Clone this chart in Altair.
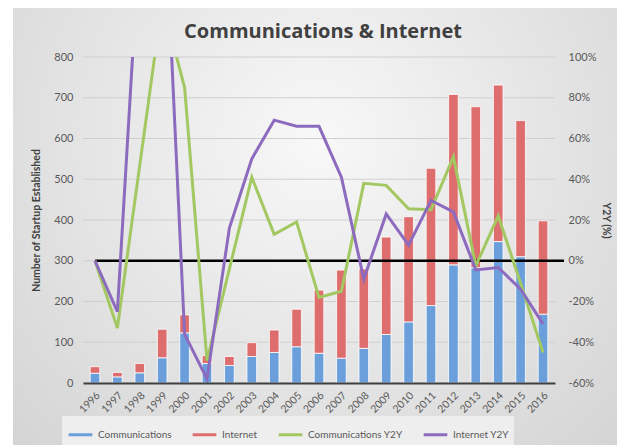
import altair as alt
import pandas as pd

years = [str(y) for y in range(1996, 2017)]
communications = [24, 15, 25, 62, 123, 48, 43, 65, 75, 89, 73, 61, 85, 119, 150, 190, 290, 283, 347, 310, 169]
internet = [16, 11, 23, 70, 44, 19, 22, 34, 55, 92, 155, 216, 195, 239, 258, 337, 418, 395, 384, 334, 229]
communications_y2y = [0, -33, 47, 127, 85, -49, -4, 41, 13, 19, -18, -15, 38, 37, 25.5, 25, 51, -2.5, 22, -11, -45]
internet_y2y = [0, -25, 160, 200, -36, -58, 16, 50, 69, 66, 66, 41, -9, 23, 7.7, 29.6, 24, -4.5, -3.3, -14, -31]

series_names = ["Communications", "Internet", "Communications Y2Y", "Internet Y2Y"]
series_colors = ["#6A9FDB", "#DE6E6E", "#A3C862", "#8C6BBE"]
left_ticks = list(range(0, 801, 100))
right_ticks = list(range(-60, 101, 20))
chart_title = "Communications & Internet"

bars_df = pd.DataFrame(
    [{"year": y, "series": series_names[0], "value": v, "order": 0} for y, v in zip(years, communications)]
    + [{"year": y, "series": series_names[1], "value": v, "order": 1} for y, v in zip(years, internet)]
)
lines_df = pd.DataFrame(
    [{"year": y, "series": series_names[2], "pct": v} for y, v in zip(years, communications_y2y)]
    + [{"year": y, "series": series_names[3], "pct": v} for y, v in zip(years, internet_y2y)]
)
grid_df = pd.DataFrame({"v": left_ticks})
zero_df = pd.DataFrame({"year": [years[0]], "pct": [0]})
one_df = pd.DataFrame({"t": [chart_title]})

W, H = 472, 326
FONT = "Lato"

xscale = alt.Scale(paddingInner=0.57, paddingOuter=0.32)
left_scale = alt.Scale(domain=[0, 800])
right_scale = alt.Scale(domain=[-60, 100])
color = alt.Color(
    "series:N",
    scale=alt.Scale(domain=series_names, range=series_colors),
    legend=alt.Legend(
        title=None, orient="none", direction="horizontal", legendX=-21, legendY=359,
        symbolType="stroke", symbolStrokeWidth=3, symbolSize=560,
        labelFont=FONT, labelFontSize=10, labelColor="#595959",
        fillColor="#eeeeee", padding=5, columnPadding=14, zindex=1,
    ),
)

bg = alt.Chart(one_df).mark_rect(
    fill=alt.RadialGradient(
        gradient="radial",
        stops=[alt.GradientStop(color="#f8f8f8", offset=0), alt.GradientStop(color="#d2d2d2", offset=1)],
        x1=0.5, y1=0.35, r1=0, x2=0.5, y2=0.35, r2=0.75,
    )
).encode(x=alt.value(-70), x2=alt.value(537), y=alt.value(-49), y2=alt.value(400))

grid = alt.Chart(grid_df).mark_rule(color="#cfcfcf", strokeWidth=1).encode(
    y=alt.Y("v:Q", scale=left_scale, axis=None)
)

bars = alt.Chart(bars_df).mark_bar(stroke="white", strokeWidth=0.8).encode(
    x=alt.X("year:N", sort=years, scale=xscale, axis=alt.Axis(
        title=None, labelAngle=-45, labelFont=FONT, labelFontSize=10.5, labelColor="#595959",
        ticks=False, domainColor="#404040", domainWidth=2, labelPadding=7, zindex=1,
    )),
    y=alt.Y("value:Q", stack="zero", scale=left_scale, axis=alt.Axis(
        orient="left", values=left_ticks, grid=False, ticks=False, domain=False,
        labelFont=FONT, labelFontSize=11, labelColor="#595959", labelPadding=10,
        title="Number of Startup Established", titleFont=FONT, titleFontSize=10.5,
        titleFontWeight="bold", titleColor="#404040", titlePadding=12, zindex=1,
    )),
    color=color,
    order=alt.Order("order:Q"),
)

zero = alt.Chart(zero_df).mark_rule(color="black", strokeWidth=2.5).encode(
    x=alt.X("year:N", sort=years, scale=xscale),
    x2=alt.value(481),
    y=alt.Y("pct:Q", scale=right_scale, axis=None),
)

lines = alt.Chart(lines_df).mark_line(clip=True, strokeWidth=3).encode(
    x=alt.X("year:N", sort=years, scale=xscale),
    y=alt.Y("pct:Q", scale=right_scale, axis=alt.Axis(
        orient="right", values=right_ticks, labelExpr="datum.value + '%'",
        grid=False, ticks=False, domain=False,
        labelFont=FONT, labelFontSize=11, labelColor="#595959", labelPadding=13,
        title="Y2Y (%)", titleAngle=90, titleFont=FONT, titleFontSize=10.5,
        titleFontWeight="bold", titleColor="#404040", titlePadding=5, zindex=1,
    )),
    color=color,
)

title = alt.Chart(one_df).mark_text(
    font="Open Sans", fontSize=20, fontWeight="bold", color="#404040", align="center", baseline="middle"
).encode(text="t:N", x=alt.value(240), y=alt.value(-25))

chart = alt.layer(bg, grid, bars, zero, lines, title).resolve_scale(y="independent").properties(
    width=W, height=H,
    autosize=alt.AutoSizeParams(type="none"),
    padding={"left": 75, "top": 49, "right": 62, "bottom": 62},
    background="white",
).configure_view(stroke=None)

chart.save("out.html", embed_options={"renderer": "svg", "actions": False})
